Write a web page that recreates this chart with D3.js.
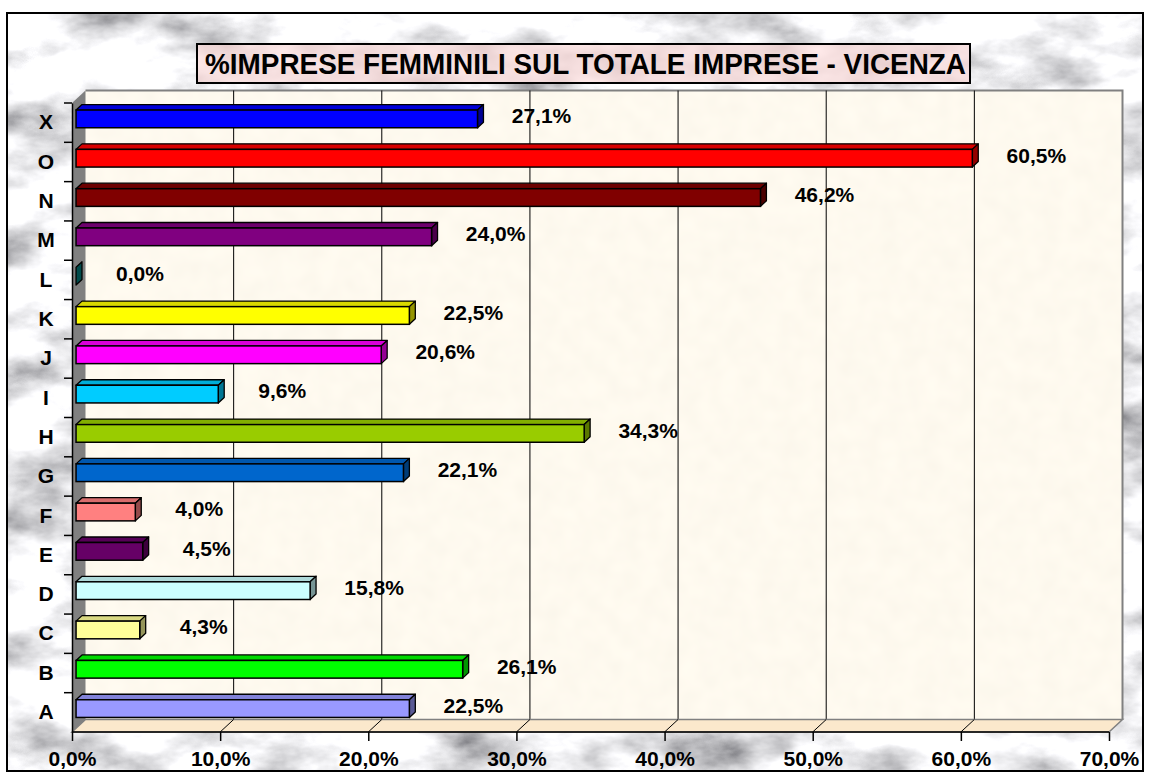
<!DOCTYPE html>
<html>
<head>
<meta charset="utf-8">
<script src="https://cdn.jsdelivr.net/npm/d3@7"></script>
<style>
  html, body { margin: 0; padding: 0; background: #ffffff; }
  svg { display: block; font-family: "Liberation Sans", Arial, sans-serif; }
</style>
</head>
<body>
<div id="chart"></div>
<script>
// Dati (dall'alto verso il basso)
const categories = ['X', 'O', 'N', 'M', 'L', 'K', 'J', 'I', 'H', 'G', 'F', 'E', 'D', 'C', 'B', 'A'];
const values = [27.1, 60.5, 46.2, 24.0, 0.0, 22.5, 20.6, 9.6, 34.3, 22.1, 4.0, 4.5, 15.8, 4.3, 26.1, 22.5];
const barColors = ['#0000FF', '#FF0000', '#800000', '#800080', '#008080', '#FFFF00', '#FF00FF', '#00CCFF',
  '#99CC00', '#0066CC', '#FF8080', '#660066', '#CCFFFF', '#FFFF99', '#00FF00', '#9999FF'];
const xTicks = [0, 10, 20, 30, 40, 50, 60, 70];
const title = '%IMPRESE FEMMINILI SUL TOTALE IMPRESE - VICENZA';

const width = 1150, height = 778;
const fmt = v => d3.format('.1f')(v).replace('.', ',') + '%';

// Profondità 3D
const depth = { dx: 13.5, dy: -12.5 };
const barFront = 0.3, barBack = 0.74;
const shift = d => ({ x: depth.dx * d, y: depth.dy * d });

const svg = d3.select('#chart').append('svg')
  .attr('width', width)
  .attr('height', height);

const defs = svg.append('defs');

// Texture marmo
const marble = defs.append('filter').attr('id', 'marble')
  .attr('x', 0).attr('y', 0).attr('width', 1).attr('height', 1);
marble.append('feTurbulence')
  .attr('type', 'fractalNoise')
  .attr('baseFrequency', '0.012 0.022')
  .attr('numOctaves', 5)
  .attr('seed', 11);
marble.append('feColorMatrix')
  .attr('type', 'matrix')
  .attr('values', '1.7 0 0 0 0.05  1.7 0 0 0 0.05  1.7 0 0 0 0.07  0 0 0 0 1');

const paper = defs.append('filter').attr('id', 'paper')
  .attr('x', 0).attr('y', 0).attr('width', 1).attr('height', 1);
paper.append('feTurbulence')
  .attr('type', 'fractalNoise')
  .attr('baseFrequency', '0.05')
  .attr('numOctaves', 2)
  .attr('seed', 3);
paper.append('feColorMatrix')
  .attr('type', 'matrix')
  .attr('values', '0.06 0 0 0 0.96  0.06 0 0 0 0.92  0.06 0 0 0 0.83  0 0 0 0 1');

const pinkTex = defs.append('filter').attr('id', 'pinkTex')
  .attr('x', 0).attr('y', 0).attr('width', 1).attr('height', 1);
pinkTex.append('feTurbulence')
  .attr('type', 'fractalNoise')
  .attr('baseFrequency', '0.02 0.04')
  .attr('numOctaves', 3)
  .attr('seed', 5);
pinkTex.append('feColorMatrix')
  .attr('type', 'matrix')
  .attr('values', '0.3 0 0 0 0.75  0.3 0 0 0 0.57  0.3 0 0 0 0.57  0 0 0 0 1');

// Sfondo con cornice
svg.append('rect')
  .attr('x', 7).attr('y', 13).attr('width', 1136).attr('height', 758)
  .attr('filter', 'url(#marble)');
svg.append('rect')
  .attr('x', 7).attr('y', 13).attr('width', 1136).attr('height', 758)
  .attr('fill', 'none').attr('stroke', '#000').attr('stroke-width', 2);

// Scale
const x = d3.scaleLinear().domain([0, 70]).range([72, 1109]);
const y = d3.scaleBand().domain(categories).range([103, 732]);
const yBar = d3.scaleBand().domain(categories).range([103, 732])
  .paddingInner(0.55).paddingOuter(0.275);

const y0 = y.range()[0], y1 = y.range()[1];
const back = shift(1);

// Parete di fondo
const g = svg.append('g');
g.append('rect')
  .attr('x', x(0) + back.x).attr('y', y0 + back.y)
  .attr('width', x(70) - x(0)).attr('height', y1 - y0)
  .attr('filter', 'url(#paper)');
g.append('path')
  .attr('d', `M${x(0) + back.x},${y0 + back.y}H${x(70) + back.x}V${y1 + back.y}`)
  .attr('fill', 'none').attr('stroke', '#808080').attr('stroke-width', 2);

// Griglia verticale
g.selectAll('.grid')
  .data(xTicks.slice(1, -1))
  .enter()
  .append('line')
  .attr('class', 'grid')
  .attr('x1', d => x(d) + back.x).attr('x2', d => x(d) + back.x)
  .attr('y1', y0 + back.y).attr('y2', y1 + back.y)
  .attr('stroke', '#000').attr('stroke-width', 1);

// Parete sinistra
g.append('polygon')
  .attr('points', [[x(0), y0], [x(0) + back.x, y0 + back.y], [x(0) + back.x, y1 + back.y], [x(0), y1]].join(' '))
  .attr('fill', '#808080');

// Pavimento
g.append('polygon')
  .attr('points', [[x(0), y1], [x(0) + back.x, y1 + back.y], [x(70) + back.x, y1 + back.y], [x(70), y1]].join(' '))
  .attr('fill', '#fbe8cc').attr('stroke', '#808080').attr('stroke-width', 1.5);
g.selectAll('.floor-grid')
  .data(xTicks.slice(1, -1))
  .enter()
  .append('line')
  .attr('x1', d => x(d) + back.x).attr('y1', y1 + back.y)
  .attr('x2', d => x(d)).attr('y2', y1)
  .attr('stroke', '#000').attr('stroke-width', 1);

// Asse X
const xAxis = d3.axisBottom(x)
  .tickValues(xTicks)
  .tickSize(9)
  .tickFormat(fmt);
const gx = svg.append('g')
  .attr('transform', `translate(0,${y1})`)
  .call(xAxis);
gx.select('.domain').attr('stroke', '#000').attr('stroke-width', 1.5).attr('d', `M${x(0)},0H${x(70)}`);
gx.selectAll('.tick line').attr('stroke', '#000').attr('stroke-width', 1.5);
gx.selectAll('.tick text')
  .attr('y', 27)
  .attr('dy', '0.35em')
  .attr('fill', '#000')
  .style('font-size', '21px')
  .style('font-weight', 'bold')
  .style('font-family', '"Liberation Sans", Arial, sans-serif');

// Asse Y
const yAxis = d3.axisLeft(y).tickSize(0).tickPadding(0);
const gy = svg.append('g')
  .attr('transform', `translate(${x(0)},0)`)
  .call(yAxis);
gy.select('.domain').attr('stroke', '#000').attr('stroke-width', 1.5);
gy.selectAll('.tick text')
  .attr('x', -26)
  .attr('text-anchor', 'middle')
  .attr('fill', '#000')
  .style('font-size', '21px')
  .style('font-weight', 'bold')
  .style('font-family', '"Liberation Sans", Arial, sans-serif');
// tacche tra le categorie
gy.selectAll('.sep')
  .data(categories)
  .enter()
  .append('line')
  .attr('x1', -8).attr('x2', 0)
  .attr('y1', d => y(d)).attr('y2', d => y(d))
  .attr('stroke', '#000').attr('stroke-width', 1.5);

// Barre 3D
const fs = shift(barFront), bs = shift(barBack);
const bdx = bs.x - fs.x, bdy = bs.y - fs.y;
const bars = svg.append('g').selectAll('.bar')
  .data(categories.map((c, i) => ({ c, v: values[i], col: barColors[i] })))
  .enter()
  .append('g')
  .attr('class', 'bar');

bars.each(function (d) {
  const sel = d3.select(this);
  const xa = x(0) + fs.x, xb = x(d.v) + fs.x;
  const ya = yBar(d.c) + fs.y, h = yBar.bandwidth();
  const base = d3.rgb(d.col);
  if (xb - xa > 0.5) {
    sel.append('polygon')
      .attr('points', [[xa, ya], [xb, ya], [xb + bdx, ya + bdy], [xa + bdx, ya + bdy]].join(' '))
      .attr('fill', base.darker(0.45))
      .attr('stroke', '#000').attr('stroke-width', 1.3).attr('stroke-linejoin', 'round');
  }
  sel.append('polygon')
    .attr('points', [[xb, ya], [xb + bdx, ya + bdy], [xb + bdx, ya + bdy + h], [xb, ya + h]].join(' '))
    .attr('fill', base.darker(1.5))
    .attr('stroke', '#000').attr('stroke-width', 1.3).attr('stroke-linejoin', 'round');
  if (xb - xa > 0.5) {
    sel.append('rect')
      .attr('x', xa).attr('y', ya)
      .attr('width', xb - xa).attr('height', h)
      .attr('fill', d.col)
      .attr('stroke', '#000').attr('stroke-width', 1.5);
  }
});

// Etichette valori
svg.append('g').selectAll('.val')
  .data(categories.map((c, i) => ({ c, v: values[i] })))
  .enter()
  .append('text')
  .attr('x', d => x(d.v) + fs.x + 64)
  .attr('y', d => yBar(d.c) + fs.y + yBar.bandwidth() / 2 - 3)
  .attr('dy', '0.35em')
  .attr('text-anchor', 'middle')
  .style('font-size', '21px')
  .style('font-weight', 'bold')
  .text(d => fmt(d.v));

// Titolo
const tb = svg.append('g');
tb.append('rect')
  .attr('x', 197).attr('y', 44).attr('width', 773).attr('height', 39)
  .attr('filter', 'url(#pinkTex)');
tb.append('rect')
  .attr('x', 197).attr('y', 44).attr('width', 773).attr('height', 39)
  .attr('fill', 'none').attr('stroke', '#000').attr('stroke-width', 2);
tb.append('text')
  .attr('x', 205).attr('y', 64)
  .attr('dy', '0.35em')
  .attr('textLength', 761)
  .attr('lengthAdjust', 'spacingAndGlyphs')
  .style('font-size', '29px')
  .style('font-weight', 'bold')
  .text(title);
</script>
</body>
</html>
